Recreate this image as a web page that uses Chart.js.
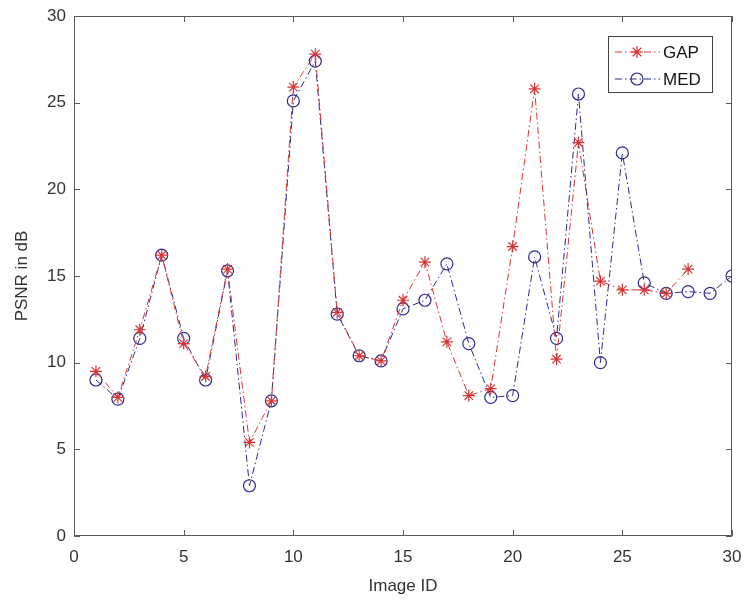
<!DOCTYPE html>
<html>
<head>
<meta charset="utf-8">
<title>PSNR per image</title>
<script src="https://cdn.jsdelivr.net/npm/chart.js@4.4.1/dist/chart.umd.min.js"></script>
<style>
  html, body { margin: 0; padding: 0; background: #ffffff; }
  #wrap { width: 745px; height: 603px; }
</style>
</head>
<body>
<div id="wrap"><canvas id="psnrChart" width="745" height="603"></canvas></div>
<script>
// ---- data ----
const imageIds = [1, 2, 3, 4, 5, 6, 7, 8, 9, 10, 11, 12, 13, 14, 15,
  16, 17, 18, 19, 20, 21, 22, 23, 24, 25, 26, 27, 28, 29, 30];
const gapPsnr = [9.5, 8.0, 11.9, 16.2, 11.1, 9.2, 15.4, 5.4, 7.8, 25.9,
  27.8, 12.9, 10.4, 10.1, 13.6, 15.8, 11.2, 8.1, 8.5, 16.7,
  25.8, 10.2, 22.7, 14.7, 14.2, 14.2, 14.0, 15.4];
const medPsnr = [9.0, 7.9, 11.4, 16.2, 11.4, 9.0, 15.3, 2.9, 7.8, 25.1,
  27.4, 12.8, 10.4, 10.1, 13.1, 13.6, 15.7, 11.1, 8.0, 8.1,
  16.1, 11.4, 25.5, 10.0, 22.1, 14.6, 14.0, 14.1, 14.0, 15.0];
const xTicks = [0, 5, 10, 15, 20, 25, 30];
const yTicks = [0, 5, 10, 15, 20, 25, 30];

const axisColor = '#5a5a5a';
const textColor = '#333333';
const gapColor = '#d83434';
const medColor = '#2c2c8c';
const dashDot = [7, 3, 1.5, 3];

const toPoints = (values) => values.map((v, i) => ({ x: imageIds[i], y: v }));

// MATLAB-style box with inward ticks and an inset legend
const boxPlugin = {
  id: 'matlabBox',
  afterDraw(chart) {
    const { ctx, chartArea: a, scales } = chart;
    const tl = 6;
    ctx.save();
    ctx.strokeStyle = axisColor;
    ctx.lineWidth = 1;
    ctx.beginPath();
    ctx.rect(a.left + 0.5, a.top + 0.5, a.right - a.left - 1, a.bottom - a.top - 1);
    xTicks.forEach(t => {
      const px = Math.round(scales.x.getPixelForValue(t)) + 0.5;
      ctx.moveTo(px, a.bottom); ctx.lineTo(px, a.bottom - tl);
      ctx.moveTo(px, a.top); ctx.lineTo(px, a.top + tl);
    });
    yTicks.forEach(t => {
      const py = Math.round(scales.y.getPixelForValue(t)) + 0.5;
      ctx.moveTo(a.left, py); ctx.lineTo(a.left + tl, py);
      ctx.moveTo(a.right, py); ctx.lineTo(a.right - tl, py);
    });
    ctx.stroke();

    // legend
    const lx = 608, ly = 36, lw = 104, lh = 56;
    ctx.fillStyle = '#ffffff';
    ctx.fillRect(lx, ly, lw, lh);
    ctx.strokeStyle = '#444444';
    ctx.strokeRect(lx + 0.5, ly + 0.5, lw, lh);
    chart.data.datasets.forEach((ds, i) => {
      const cy = ly + 16 + i * 27;
      ctx.save();
      ctx.strokeStyle = ds.borderColor;
      ctx.lineWidth = 1;
      ctx.setLineDash(dashDot);
      ctx.beginPath();
      ctx.moveTo(lx + 7, cy); ctx.lineTo(lx + 52, cy);
      ctx.stroke();
      ctx.setLineDash([]);
      ctx.strokeStyle = ds.pointBorderColor;
      ctx.fillStyle = 'rgba(0,0,0,0)';
      ctx.lineWidth = ds.pointBorderWidth;
      Chart.helpers.drawPoint(ctx, {
        pointStyle: ds.pointStyle,
        radius: ds.pointRadius,
        borderWidth: ds.pointBorderWidth
      }, lx + 29, cy);
      ctx.restore();
      ctx.fillStyle = '#111111';
      ctx.font = '17px "Liberation Sans", Arial, sans-serif';
      ctx.textBaseline = 'middle';
      ctx.fillText(ds.label, lx + 55, cy + 1);
    });
    ctx.restore();
  }
};

const labelFont = { family: '"Liberation Sans", Arial, sans-serif', size: 17 };

new Chart(document.getElementById('psnrChart'), {
  type: 'line',
  data: {
    datasets: [
      {
        label: 'GAP',
        data: toPoints(gapPsnr),
        borderColor: gapColor,
        borderWidth: 1,
        borderDash: dashDot,
        pointStyle: 'star',
        pointRadius: 6,
        pointBorderWidth: 1.2,
        pointBorderColor: gapColor,
        pointBackgroundColor: 'transparent',
        tension: 0
      },
      {
        label: 'MED',
        data: toPoints(medPsnr),
        borderColor: medColor,
        borderWidth: 1,
        borderDash: dashDot,
        pointStyle: 'circle',
        pointRadius: 6,
        pointBorderWidth: 1.2,
        pointBorderColor: medColor,
        pointBackgroundColor: 'transparent',
        tension: 0
      }
    ]
  },
  options: {
    responsive: false,
    animation: false,
    layout: { padding: { top: 16, right: 13, left: 0, bottom: 0 } },
    plugins: {
      legend: { display: false },
      tooltip: { enabled: false }
    },
    scales: {
      x: {
        type: 'linear',
        min: 0,
        max: 30,
        afterFit: (scale) => {
          scale.height = 67;
          scale.paddingLeft = 0;
          scale.paddingRight = 0;
        },
        afterBuildTicks: (scale) => { scale.ticks = xTicks.map(v => ({ value: v })); },
        grid: { display: false, drawTicks: false },
        border: { display: false },
        ticks: { padding: 11, color: textColor, font: labelFont },
        title: {
          display: true,
          text: 'Image ID',
          color: textColor,
          padding: { top: 0, bottom: 6 },
          font: labelFont
        }
      },
      y: {
        type: 'linear',
        min: 0,
        max: 30,
        afterFit: (scale) => {
          scale.width = 74;
          scale.paddingTop = 0;
          scale.paddingBottom = 0;
        },
        afterBuildTicks: (scale) => { scale.ticks = yTicks.map(v => ({ value: v })); },
        grid: { display: false, drawTicks: false },
        border: { display: false },
        ticks: { padding: 8, color: textColor, font: labelFont },
        title: {
          display: true,
          text: 'PSNR in dB',
          color: textColor,
          padding: { top: 12, bottom: 0 },
          font: labelFont
        }
      }
    }
  },
  plugins: [boxPlugin]
});
</script>
</body>
</html>
